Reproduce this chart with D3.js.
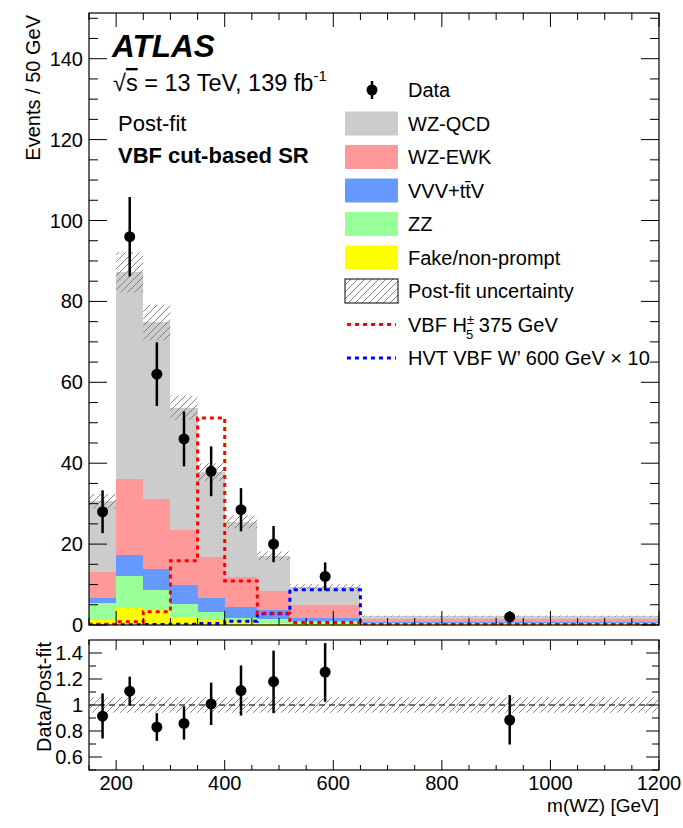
<!DOCTYPE html>
<html>
<head>
<meta charset="utf-8">
<script src="https://cdn.jsdelivr.net/npm/d3@7"></script>
<style>
  html, body { margin: 0; padding: 0; background: #fff; }
  svg { display: block; }
  text { font-family: "Liberation Sans", Arial, Helvetica, sans-serif; fill: #000; }
</style>
</head>
<body>
<svg id="chart" width="683" height="828"></svg>
<script>
// ---------------- DATA ----------------
const binEdges = [150, 200, 250, 300, 350, 400, 460, 520, 650, 1200];
const fakeNonPrompt = [1.2, 4.3, 3.7, 2.1, 1.2, 0.8, 0.6, 0.4, 0.2];
const zzBkg        = [4.2, 7.9, 5.0, 3.2, 1.9, 1.0, 0.8, 0.5, 0.2];
const vvvTtv       = [1.2, 5.0, 5.1, 4.6, 3.5, 2.6, 2.2, 0.8, 0.3];
const wzEwk        = [6.6, 19.0, 17.3, 13.6, 10.1, 7.5, 4.8, 3.3, 0.7];
const wzQcd        = [17.4, 51.0, 43.7, 30.2, 21.1, 13.6, 8.7, 4.5, 0.8];
const postFitUnc   = [1.8, 5.0, 4.4, 3.0, 2.2, 1.6, 1.1, 0.6, 0.15];
const dataCounts   = [28, 96, 62, 46, 38, 28.5, 20, 12, 2];
const dataX        = [175, 225, 275, 325, 375, 430, 490, 585, 925];
const signalH5     = [0.2, 0.8, 3.3, 15.9, 51.2, 10.9, 2.9, 0.6, 0.1];
const signalWprime = [0.05, 0.05, 0.1, 0.2, 0.4, 0.9, 2.8, 8.7, 0.15];
const ratioVals    = [0.914, 1.106, 0.830, 0.858, 1.008, 1.111, 1.180, 1.253, 0.884];
const ratioLow     = [0.742, 0.995, 0.724, 0.734, 0.846, 0.919, 0.937, 1.025, 0.696];
const ratioHigh    = [1.089, 1.218, 0.937, 0.990, 1.172, 1.304, 1.418, 1.476, 1.076];
const ratioBandUnc = 0.06;
const yTicksMain   = [0, 20, 40, 60, 80, 100, 120, 140];
const yTicksRatio  = [0.6, 0.8, 1, 1.2, 1.4];
const xTicks       = [200, 400, 600, 800, 1000, 1200];
const legendLabels = ["Data", "WZ-QCD", "WZ-EWK", "VVV+tt\u0304V", "ZZ", "Fake/non-prompt", "Post-fit uncertainty", "VBF H", "HVT VBF W\u2019 600 GeV \u00d7 10"];

// ---------------- LAYOUT ----------------
const svg = d3.select("#chart");
const L = 89, R = 659;
const mainTop = 13, mainBot = 625;
const ratTop = 640, ratBot = 770;
const colors = { qcd: "#cccccc", ewk: "#ff9999", vvv: "#6699ff", zz: "#99ff99", fake: "#ffff00" };

const x = d3.scaleLinear().domain([150, 1200]).range([L, R]);
const y = d3.scaleLinear().domain([0, 151.3]).range([mainBot, mainTop]);
const yr = d3.scaleLinear().domain([0.5, 1.5]).range([ratBot, ratTop]);

// hatch pattern
const defs = svg.append("defs");
const pat = defs.append("pattern").attr("id", "hatch").attr("patternUnits", "userSpaceOnUse")
  .attr("width", 7).attr("height", 7);
pat.append("path").attr("d", "M0,7 L7,0 M-1,1 L1,-1 M6,8 L8,6")
  .attr("stroke", "#777").attr("stroke-width", 0.9);
defs.append("clipPath").attr("id", "clipMain").append("rect")
  .attr("x", L).attr("y", mainTop).attr("width", R - L).attr("height", mainBot - mainTop);
defs.append("clipPath").attr("id", "clipRatio").append("rect")
  .attr("x", L).attr("y", ratTop).attr("width", R - L).attr("height", ratBot - ratTop);

// ---------------- STACK ----------------
const bins = d3.range(binEdges.length - 1).map(i => ({
  x0: binEdges[i], x1: binEdges[i + 1],
  fake: fakeNonPrompt[i], zz: zzBkg[i], vvv: vvvTtv[i], ewk: wzEwk[i], qcd: wzQcd[i]
}));
const keys = ["fake", "zz", "vvv", "ewk", "qcd"];
const stack = d3.stack().keys(keys)(bins);

const gMain = svg.append("g").attr("clip-path", "url(#clipMain)");
stack.forEach(layer => {
  gMain.append("g").selectAll("rect").data(layer).join("rect")
    .attr("x", d => x(d.data.x0))
    .attr("width", d => x(d.data.x1) - x(d.data.x0))
    .attr("y", d => y(d[1]))
    .attr("height", d => y(d[0]) - y(d[1]))
    .attr("fill", colors[layer.key])
    .attr("shape-rendering", "crispEdges");
});
const totals = bins.map((b, i) => keys.reduce((s, k) => s + b[k], 0));

// uncertainty band
gMain.append("g").selectAll("rect").data(bins).join("rect")
  .attr("x", d => x(d.x0))
  .attr("width", d => x(d.x1) - x(d.x0))
  .attr("y", (d, i) => y(totals[i] + postFitUnc[i]))
  .attr("height", (d, i) => y(totals[i] - postFitUnc[i]) - y(totals[i] + postFitUnc[i]))
  .attr("fill", "url(#hatch)");

// step lines for signals
function stepPath(vals, scaleY) {
  let p = "";
  vals.forEach((v, i) => {
    const xa = x(binEdges[i]), xb = x(binEdges[i + 1]), yy = scaleY(v);
    p += (i === 0 ? `M${xa},${scaleY(0)}L${xa},${yy}` : `L${xa},${yy}`) + `L${xb},${yy}`;
  });
  p += `L${x(binEdges[binEdges.length - 1])},${scaleY(0)}`;
  return p;
}
gMain.append("path").attr("d", stepPath(signalWprime, y))
  .attr("fill", "none").attr("stroke", "#0000ff").attr("stroke-width", 3)
  .attr("stroke-dasharray", "4,4");
gMain.append("path").attr("d", stepPath(signalH5, y))
  .attr("fill", "none").attr("stroke", "#ff0000").attr("stroke-width", 3)
  .attr("stroke-dasharray", "4,4");

// data points
const gData = svg.append("g");
dataCounts.forEach((n, i) => {
  const e = Math.sqrt(n);
  gData.append("line").attr("x1", x(dataX[i])).attr("x2", x(dataX[i]))
    .attr("y1", y(n + e)).attr("y2", y(Math.max(0, n - e)))
    .attr("stroke", "#000").attr("stroke-width", 2.5);
  gData.append("circle").attr("cx", x(dataX[i])).attr("cy", y(n)).attr("r", 5.5).attr("fill", "#000");
});

// ---------------- AXES (ROOT style, ticks inward on all sides) ----------------
function frame(top, bot, ys, yMajor, yMinor, yMajLen, yMinLen, xMajLen, xMinLen) {
  const g = svg.append("g").attr("stroke", "#000").attr("stroke-width", 1).attr("fill", "none");
  g.append("rect").attr("x", L).attr("y", top).attr("width", R - L).attr("height", bot - top)
    .attr("stroke-width", 1.2);
  const xMinor = d3.range(150, 1201, 50);
  xMinor.forEach(v => {
    const maj = xTicks.includes(v);
    const len = maj ? xMajLen : xMinLen;
    g.append("line").attr("x1", x(v)).attr("x2", x(v)).attr("y1", bot).attr("y2", bot - len);
    g.append("line").attr("x1", x(v)).attr("x2", x(v)).attr("y1", top).attr("y2", top + len);
  });
  yMinor.forEach(v => {
    const maj = yMajor.some(m => Math.abs(m - v) < 1e-9);
    const len = maj ? yMajLen : yMinLen;
    g.append("line").attr("x1", L).attr("x2", L + len).attr("y1", ys(v)).attr("y2", ys(v));
    g.append("line").attr("x1", R).attr("x2", R - len).attr("y1", ys(v)).attr("y2", ys(v));
  });
  return g;
}
frame(mainTop, mainBot, y, yTicksMain, d3.range(0, 151, 5), 18, 9, 14, 7);
frame(ratTop, ratBot, yr, yTicksRatio, d3.range(5, 15).map(v => v / 10), 13, 7, 10, 5);

const tickFont = 20;
svg.append("g").selectAll("text").data(yTicksMain).join("text")
  .attr("x", L - 6).attr("y", d => y(d)).attr("dy", "0.35em")
  .attr("text-anchor", "end").attr("font-size", tickFont).text(d => d);
svg.append("g").selectAll("text").data(yTicksRatio).join("text")
  .attr("x", L - 6).attr("y", d => yr(d)).attr("dy", "0.35em")
  .attr("text-anchor", "end").attr("font-size", tickFont).text(d => d);
svg.append("g").selectAll("text").data(xTicks).join("text")
  .attr("x", d => x(d)).attr("y", ratBot + 20)
  .attr("text-anchor", "middle").attr("font-size", tickFont).text(d => d);

// axis titles
svg.append("text").attr("transform", `translate(40,${mainTop + 2}) rotate(-90)`)
  .attr("text-anchor", "end").attr("font-size", 20).text("Events / 50 GeV");
svg.append("text").attr("transform", `translate(51,${ratTop + 2}) rotate(-90)`)
  .attr("text-anchor", "end").attr("font-size", 20).text("Data/Post-fit");
svg.append("text").attr("x", R).attr("y", 812).attr("text-anchor", "end")
  .attr("font-size", 19).text("m(WZ) [GeV]");

// ---------------- RATIO PANEL ----------------
const gRat = svg.append("g").attr("clip-path", "url(#clipRatio)");
gRat.append("rect").attr("x", L).attr("width", R - L)
  .attr("y", yr(1 + ratioBandUnc)).attr("height", yr(1 - ratioBandUnc) - yr(1 + ratioBandUnc))
  .attr("fill", "url(#hatch)");
gRat.append("line").attr("x1", L).attr("x2", R).attr("y1", yr(1)).attr("y2", yr(1))
  .attr("stroke", "#444").attr("stroke-width", 1.5).attr("stroke-dasharray", "6,4");
ratioVals.forEach((r, i) => {
  gRat.append("line").attr("x1", x(dataX[i])).attr("x2", x(dataX[i]))
    .attr("y1", yr(ratioHigh[i])).attr("y2", yr(ratioLow[i]))
    .attr("stroke", "#000").attr("stroke-width", 2.5);
  gRat.append("circle").attr("cx", x(dataX[i])).attr("cy", yr(r)).attr("r", 5.5).attr("fill", "#000");
});

// ---------------- LABELS ----------------
svg.append("text").attr("x", 112).attr("y", 57).attr("font-size", 31.5)
  .attr("font-weight", "bold").attr("font-style", "italic").text("ATLAS");
const ecm = svg.append("text").attr("x", 113).attr("y", 91).attr("font-size", 23.5);
ecm.append("tspan").text("\u221A");
ecm.append("tspan").style("text-decoration", "overline").text("s");
ecm.append("tspan").text(" = 13 TeV, 139 fb");
ecm.append("tspan").attr("dy", -10).attr("font-size", 15).text("-1");
svg.append("text").attr("x", 118).attr("y", 131).attr("font-size", 22).text("Post-fit");
svg.append("text").attr("x", 118).attr("y", 163).attr("font-size", 22)
  .attr("font-weight", "bold").text("VBF cut-based SR");

// ---------------- LEGEND ----------------
const legX = 345, legW = 53, legTextX = 408, legY0 = 90, legDy = 33.5, boxH = 24;
const gLeg = svg.append("g");
const rowY = i => legY0 + i * legDy;
// data
gLeg.append("line").attr("x1", 372).attr("x2", 372).attr("y1", rowY(0) - 9).attr("y2", rowY(0) + 9)
  .attr("stroke", "#000").attr("stroke-width", 2.5);
gLeg.append("circle").attr("cx", 372).attr("cy", rowY(0)).attr("r", 5.5).attr("fill", "#000");
// boxes
const boxColors = [colors.qcd, colors.ewk, colors.vvv, colors.zz, colors.fake];
boxColors.forEach((c, k) => {
  gLeg.append("rect").attr("x", legX).attr("y", rowY(k + 1) - boxH / 2).attr("width", legW)
    .attr("height", boxH).attr("fill", c).attr("rx", 1);
});
gLeg.append("rect").attr("x", legX).attr("y", rowY(6) - boxH / 2).attr("width", legW)
  .attr("height", boxH).attr("fill", "url(#hatch)").attr("stroke", "#000").attr("stroke-width", 1);
gLeg.append("line").attr("x1", legX + 2).attr("x2", legX + legW - 2).attr("y1", rowY(7)).attr("y2", rowY(7))
  .attr("stroke", "#ff0000").attr("stroke-width", 3).attr("stroke-dasharray", "4,4");
gLeg.append("line").attr("x1", legX + 2).attr("x2", legX + legW - 2).attr("y1", rowY(8)).attr("y2", rowY(8))
  .attr("stroke", "#0000ff").attr("stroke-width", 3).attr("stroke-dasharray", "4,4");
legendLabels.forEach((t, k) => {
  const txt = gLeg.append("text").attr("x", legTextX).attr("y", rowY(k) + 7).attr("font-size", 20);
  if (k === 7) {
    txt.append("tspan").text("VBF H");
    txt.append("tspan").attr("font-size", 13).attr("dy", -8).text("\u00b1");
    txt.append("tspan").attr("font-size", 13).attr("dx", -8).attr("dy", 15).text("5");
    txt.append("tspan").attr("dy", -7).text(" 375 GeV");
  } else {
    txt.text(t);
  }
});
</script>
</body>
</html>
